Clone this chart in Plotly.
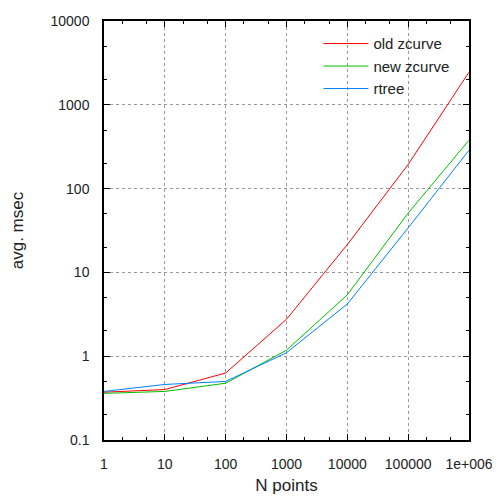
import plotly.graph_objects as go

n_points = [1, 10, 100, 1000, 10000, 100000, 1000000]
old_zcurve = [0.372, 0.40, 0.63, 2.76, 21.5, 194, 2450]
new_zcurve = [0.36, 0.38, 0.476, 1.18, 5.4, 51, 378]
rtree = [0.38, 0.46, 0.50, 1.10, 4.2, 34, 287]

series_names = ["old zcurve", "new zcurve", "rtree"]
series_values = [old_zcurve, new_zcurve, rtree]
series_colors = ["#ff0000", "#00c000", "#0080ff"]

x_tickvals = [1, 10, 100, 1000, 10000, 100000, 1000000]
x_ticktext = ["1", "10", "100", "1000", "10000", "100000", "1e+006"]
y_tickvals = [0.1, 1, 10, 100, 1000, 10000]
y_ticktext = ["0.1", "1", "10", "100", "1000", "10000"]

fig = go.Figure()
for name, vals, col in zip(series_names, series_values, series_colors):
    fig.add_trace(go.Scatter(x=n_points, y=vals, mode="lines", name=name,
                             line=dict(color=col, width=1)))

font = dict(family="Liberation Sans, Arial, sans-serif", size=14, color="#222")
axis_common = dict(type="log", showline=True, linecolor="black", linewidth=1.5,
                   mirror="ticks", ticks="inside", ticklen=6, tickcolor="black",
                   showgrid=True, gridcolor="#999", griddash="dot", gridwidth=1,
                   zeroline=False, automargin=False,
                   minor=dict(ticks="inside", ticklen=3, tickcolor="black", showgrid=False))

fig.update_layout(
    width=500, height=500,
    margin=dict(l=96, r=39, t=13, b=68),
    paper_bgcolor="white", plot_bgcolor="white",
    font=font,
    showlegend=True,
    legend=dict(x=0.96, y=0.985, xanchor="right", yanchor="top",
                bgcolor="rgba(0,0,0,0)", font=dict(size=15), itemwidth=45,
                tracegroupgap=0),
    xaxis=dict(axis_common, range=[0, 6], tickvals=x_tickvals, ticktext=x_ticktext,
               ticklabelstandoff=10,
               title=dict(text="N points", standoff=9)),
    yaxis=dict(axis_common, range=[-1, 4], tickvals=y_tickvals, ticktext=y_ticktext,
               ticklabelstandoff=10,
               title=dict(text="avg. msec", standoff=28)),
)
fig.write_html("out.html")
